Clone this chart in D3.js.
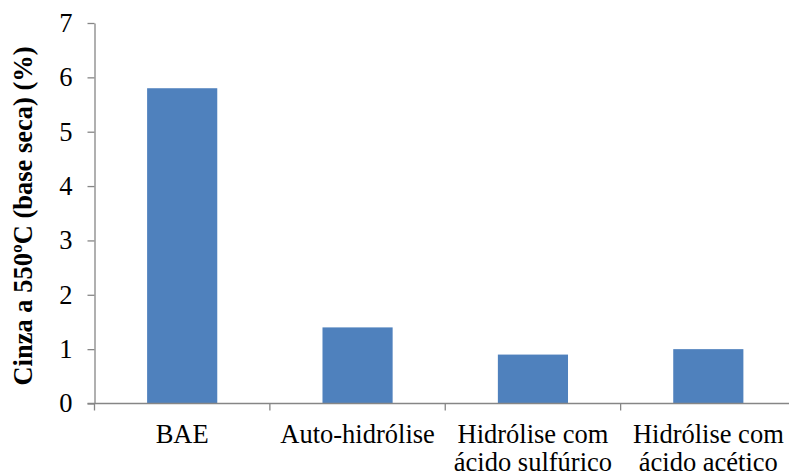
<!DOCTYPE html>
<html>
<head>
<meta charset="utf-8">
<script src="https://cdn.jsdelivr.net/npm/d3@7"></script>
<style>
  html, body { margin: 0; padding: 0; background: #fff; }
  svg { display: block; }
</style>
</head>
<body>
<svg id="chart" width="789" height="476"></svg>
<script>
// Ash content at 550 ºC (dry basis) per treatment
const categories = [
  ["BAE"],
  ["Auto-hidrólise"],
  ["Hidrólise com", "ácido sulfúrico"],
  ["Hidrólise com", "ácido acético"]
];
const values = [5.8, 1.4, 0.9, 1.0];
const yTicks = [0, 1, 2, 3, 4, 5, 6, 7];
const yLabel = "Cinza a 550ºC (base seca) (%)";

const fontFamily = "'Liberation Serif'";
const fontSize = 26.5;
const svg = d3.select("#chart");
const axisColor = "#868686";
const barColor = "#4F81BD";

const plotLeft = 94.5, plotRight = 796, plotTop = 23, plotBottom = 403.5;

const x = d3.scaleBand()
  .domain(d3.range(categories.length))
  .range([plotLeft, plotRight])
  .paddingInner(0.6)
  .paddingOuter(0.3);

const y = d3.scaleLinear().domain([0, 7]).range([plotBottom, plotTop]);

// bars
svg.append("g").selectAll("rect")
  .data(values)
  .join("rect")
  .attr("x", (d, i) => x(i))
  .attr("width", x.bandwidth())
  .attr("y", d => y(d))
  .attr("height", d => y(0) - y(d))
  .attr("fill", barColor);

// y axis
const yAxis = svg.append("g")
  .attr("transform", `translate(${plotLeft},0)`)
  .call(d3.axisLeft(y).tickValues(yTicks).tickFormat(d3.format("d")).tickSize(7).tickPadding(15).tickSizeOuter(0));
yAxis.attr("font-family", fontFamily).attr("font-size", fontSize);
yAxis.select(".domain").attr("stroke", axisColor).attr("stroke-width", 1.3);
yAxis.selectAll(".tick line").attr("stroke", axisColor).attr("stroke-width", 1.3);
yAxis.selectAll(".tick text")
  .attr("font-family", fontFamily)
  .attr("font-size", fontSize)
  .attr("fill", "#000");

// x axis: ticks at category boundaries
const step = x.step();
const boundaries = d3.range(categories.length + 1).map(i => plotLeft + i * step);
const xg = svg.append("g");
xg.append("line")
  .attr("x1", plotLeft - 7).attr("x2", plotRight + 2)
  .attr("y1", plotBottom).attr("y2", plotBottom)
  .attr("stroke", axisColor).attr("stroke-width", 1.3);
xg.selectAll("line.tick")
  .data(boundaries)
  .join("line")
  .attr("class", "tick")
  .attr("x1", d => d).attr("x2", d => d)
  .attr("y1", plotBottom).attr("y2", plotBottom + 7)
  .attr("stroke", axisColor).attr("stroke-width", 1.3);

// category labels
const labels = svg.append("g").selectAll("text")
  .data(categories)
  .join("text")
  .attr("text-anchor", "middle")
  .attr("font-family", fontFamily)
  .attr("font-size", fontSize)
  .attr("fill", "#000")
  .attr("x", (d, i) => x(i) + x.bandwidth() / 2)
  .attr("y", 443);
labels.selectAll("tspan")
  .data(d => d)
  .join("tspan")
  .attr("x", function() { return d3.select(this.parentNode).attr("x"); })
  .attr("dy", (d, i) => i === 0 ? 0 : 28)
  .text(d => d);

// y axis title
svg.append("text")
  .attr("transform", `translate(32,216) rotate(-90)`)
  .attr("text-anchor", "middle")
  .attr("font-family", fontFamily)
  .attr("font-size", fontSize)
  .attr("font-weight", "bold")
  .attr("fill", "#000")
  .text(yLabel);
</script>
</body>
</html>
